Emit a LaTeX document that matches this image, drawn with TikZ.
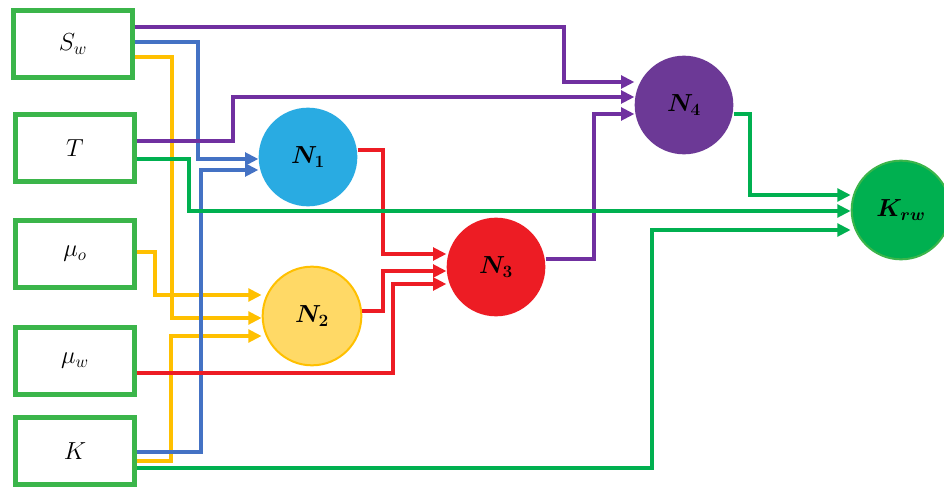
\RequirePackage{fix-cm}
\documentclass[tikz,border=0pt]{standalone}
\usepackage{amsmath}
\usepackage{bm}
\usetikzlibrary{arrows.meta}
\definecolor{boxGreen}{RGB}{59,181,74}
\definecolor{linePurple}{RGB}{112,48,160}
\definecolor{lineBlue}{RGB}{68,114,196}
\definecolor{lineYellow}{RGB}{255,192,0}
\definecolor{lineRed}{RGB}{237,28,36}
\definecolor{lineGreen}{RGB}{0,176,80}
\definecolor{fillNOne}{RGB}{41,171,226}
\definecolor{fillNTwo}{RGB}{255,217,102}
\definecolor{fillNFour}{RGB}{108,57,150}

\begin{document}
\begin{tikzpicture}[x=0.75pt,y=-0.75pt,
  font=\fontsize{18.5}{22}\selectfont,
  inbox/.style={draw=boxGreen, line width=3.4pt, minimum width=89pt, minimum height=50pt, inner sep=0pt},
  neuron/.style={circle, minimum size=74pt, inner sep=0pt},
  wire/.style={line width=2.6pt, -{Triangle[length=10pt,width=9.5pt]}},
  yel/.style={wire, lineYellow},
  blu/.style={wire, lineBlue},
  pur/.style={wire, linePurple},
  rd/.style={wire, lineRed},
  grn/.style={wire, lineGreen}]
\fill[white] (0,0) rectangle (944,488);
\useasboundingbox (0,0) rectangle (944,488);
% inputs
\node[inbox] (Sw) at (73,44) {$S_w$};
\node[inbox] (T) at (75,148) {$T$};
\node[inbox] (muo) at (75,254) {$\mu_o$};
\node[inbox] (muw) at (75,361) {$\mu_w$};
\node[inbox] (K) at (75,451) {$K$};
% hidden and output
\node[neuron, fill=fillNOne] (N1) at (308,157) {$\bm{N_1}$};
\node[neuron, fill=fillNTwo, draw=lineYellow, line width=1.5pt] (N2) at (312,316) {$\bm{N_2}$};
\node[neuron, fill=lineRed] (N3) at (496,267) {$\bm{N_3}$};
\node[neuron, fill=fillNFour] (N4) at (684,105) {$\bm{N_4}$};
\node[neuron, fill=lineGreen, draw=boxGreen, line width=1.5pt] (Krw) at (901,210) {$\bm{K_{rw}}$};
% into N2
\draw[yel] (Sw.east |- 0,57) -| (172,318) -- (N2.west |- 0,318);
\draw[yel] (muo.east |- 0,252) -| (155,295) -- (N2.west |- 0,295);
\draw[yel] (K.east |- 0,461) -| (171,336) -- (N2.west |- 0,336);
% into N1
\draw[blu] (Sw.east |- 0,42) -| (198,159) -- (N1.west |- 0,159);
\draw[blu] (K.east |- 0,452) -| (201,170) -- (N1.west |- 0,170);
% into N4
\draw[pur] (Sw.east |- 0,27) -| (564,82) -- (N4.west |- 0,82);
\draw[pur] (T.east |- 0,141) -| (233,97) -- (N4.west |- 0,97);
\draw[pur] (N3.east |- 0,259) -| (594,114) -- (N4.west |- 0,114);
% into N3
\draw[rd] (N1.east |- 0,150) -| (383,254) -- (N3.west |- 0,254);
\draw[rd] (N2.east |- 0,311) -| (383,271) -- (N3.west |- 0,271);
\draw[rd] (muw.east |- 0,373) -| (393,284) -- (N3.west |- 0,284);
% into Krw
\draw[grn] (T.east |- 0,159) -| (189,211) -- (Krw.west |- 0,211);
\draw[grn] (N4.east |- 0,114) -| (750,195) -- (Krw.west |- 0,195);
\draw[grn] (K.east |- 0,468) -| (652,230) -- (Krw.west |- 0,230);
\end{tikzpicture}
\end{document}
